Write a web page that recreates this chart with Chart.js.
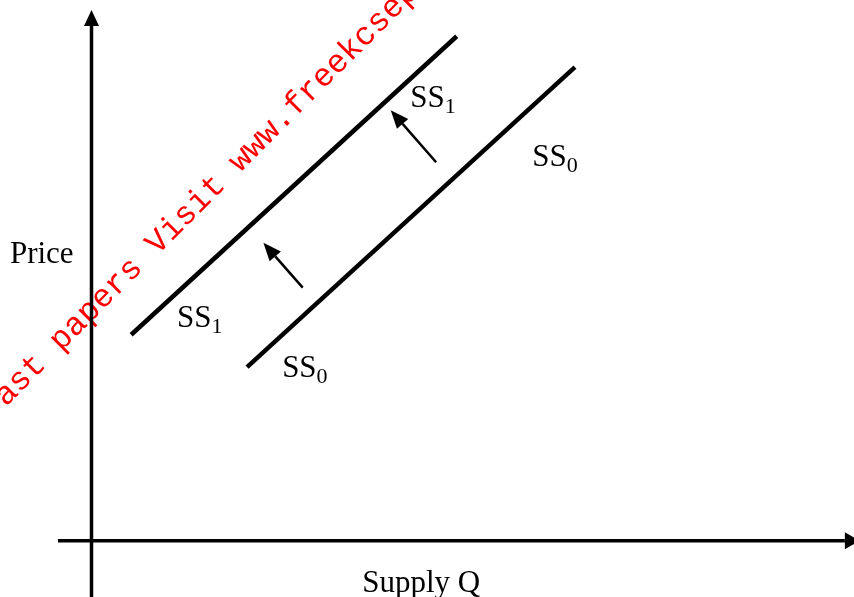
<!DOCTYPE html>
<html>
<head>
<meta charset="utf-8">
<title>Supply shift</title>
<script src="https://cdn.jsdelivr.net/npm/chart.js@4.4.1/dist/chart.umd.min.js"></script>
<style>
  html, body { margin: 0; padding: 0; background: #fff; }
  #wrap { width: 854px; height: 597px; }
</style>
</head>
<body>
<div id="wrap"><canvas id="mycanvas" width="854" height="597"></canvas></div>
<script>
// chart units: quantity on x, price on y (origin where the axes cross)
var ss0 = [{x: 2.04, y: 3.21}, {x: 6.34, y: 8.76}];
var ss1 = [{x: 0.52, y: 3.81}, {x: 4.79, y: 9.33}];
var shiftLow = [{x: 2.77, y: 4.68}, {x: 2.41, y: 5.26}];
var shiftHigh = [{x: 4.52, y: 7.00}, {x: 4.08, y: 7.71}];
var priceAxis = [{x: 0, y: -1.04}, {x: 0, y: 9.52}];
var qtyAxis = [{x: -0.44, y: 0}, {x: 9.88, y: 0}];

var curveLabels = [
	{main: 'SS', sub: '1', x: 4.18, y: 8.02},
	{main: 'SS', sub: '0', x: 5.78, y: 6.93},
	{main: 'SS', sub: '1', x: 1.12, y: 3.95},
	{main: 'SS', sub: '0', x: 2.50, y: 3.03}
];
var axisTitles = [
	{text: 'Price', x: -1.07, y: 5.14},
	{text: 'Supply Q', x: 3.55, y: -0.95}
];
var watermark = 'Past papers Visit www.freekcsepastpapers.com';

function line(data, w, head){
	return {
		data: data,
		showLine: true,
		borderColor: '#000',
		backgroundColor: '#000',
		borderWidth: w,
		pointRadius: 0,
		borderCapStyle: 'butt',
		arrowHead: head
	};
}

var extras = {
	id: 'extras',
	beforeDatasetsDraw: function(chart){
		var ctx = chart.ctx;
		ctx.save();
		ctx.translate(-8, 421);
		ctx.rotate(-45 * Math.PI / 180);
		ctx.fillStyle = '#ff0000';
		ctx.font = '32.5px "Liberation Mono", "Courier New", monospace';
		ctx.textBaseline = 'alphabetic';
		ctx.fillText(watermark, 0, 0);
		ctx.restore();
	},
	afterDatasetsDraw: function(chart){
		var ctx = chart.ctx;
		var xs = chart.scales.x, ys = chart.scales.y;
		ctx.save();
		ctx.fillStyle = '#000';
		chart.data.datasets.forEach(function(ds){
			if(!ds.arrowHead) return;
			var n = ds.data.length;
			var a = ds.data[n-2], b = ds.data[n-1];
			var ax = xs.getPixelForValue(a.x), ay = ys.getPixelForValue(a.y);
			var bx = xs.getPixelForValue(b.x), by = ys.getPixelForValue(b.y);
			var dx = bx - ax, dy = by - ay, len = Math.sqrt(dx*dx + dy*dy);
			dx /= len; dy /= len;
			var L = ds.arrowHead[0], W = ds.arrowHead[1] / 2;
			ctx.beginPath();
			ctx.moveTo(bx + dx*L, by + dy*L);
			ctx.lineTo(bx - dy*W, by + dx*W);
			ctx.lineTo(bx + dy*W, by - dx*W);
			ctx.closePath();
			ctx.fill();
		});
		ctx.textBaseline = 'alphabetic';
		ctx.textAlign = 'left';
		curveLabels.forEach(function(l){
			var px = xs.getPixelForValue(l.x), py = ys.getPixelForValue(l.y);
			ctx.font = '31px "Liberation Serif", "Times New Roman", serif';
			ctx.fillText(l.main, px, py);
			var w = ctx.measureText(l.main).width;
			ctx.font = '22px "Liberation Serif", "Times New Roman", serif';
			ctx.fillText(l.sub, px + w, py + 6);
		});
		ctx.font = '31px "Liberation Serif", "Times New Roman", serif';
		axisTitles.forEach(function(t){
			ctx.fillText(t.text, xs.getPixelForValue(t.x), ys.getPixelForValue(t.y));
		});
		ctx.restore();
	}
};

var cxt = document.getElementById('mycanvas');
var chart = new Chart(cxt, {
	type: 'scatter',
	data: {
		datasets: [
			line(priceAxis, 3.5, [16, 15]),
			line(qtyAxis, 3.5, [15, 17]),
			line(ss1, 4.5, null),
			line(ss0, 4.5, null),
			line(shiftLow, 2.5, [18, 15]),
			line(shiftHigh, 2.5, [18, 15])
		]
	},
	options: {
		responsive: false,
		animation: false,
		layout: {padding: 0},
		plugins: {legend: {display: false}, tooltip: {enabled: false}},
		scales: {
			x: {type: 'linear', min: -1.2, max: 10, display: false},
			y: {type: 'linear', min: -1.04, max: 10, display: false}
		}
	},
	plugins: [extras]
});
</script>
</body>
</html>
